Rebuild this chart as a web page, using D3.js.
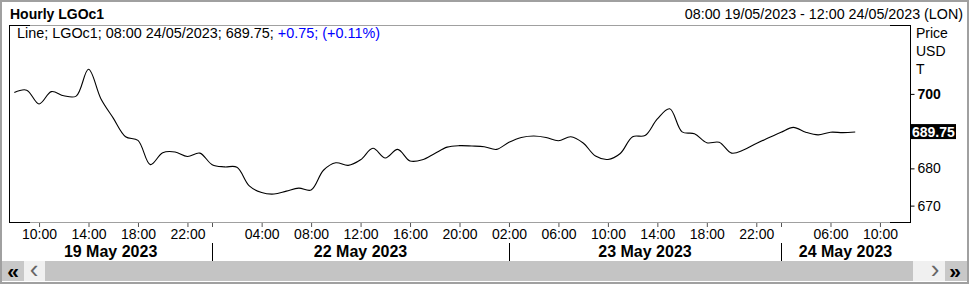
<!DOCTYPE html>
<html>
<head>
<meta charset="utf-8">
<script src="https://cdn.jsdelivr.net/npm/d3@7"></script>
<style>
  body { margin: 0; background: #fff; }
  svg { display: block; font-family: "Liberation Sans", Arial, sans-serif; }
</style>
</head>
<body>
<div class="chart"></div>
<script>
const width = 969;
const height = 285;

// trading sessions: bars are hourly, gaps between sessions are squeezed out
const sessionDays = ["19 May 2023", "22 May 2023", "23 May 2023", "24 May 2023"];
const sessionFrom = [8, 0, 2, 2];
const sessionTo = [23, 23, 23, 12];

// hourly closes from 08:00 19/05 to 08:00 24/05
const prices = [
    700.4, 701.0, 697.3, 700.6, 699.5, 699.4, 706.6, 698.7, 693.5, 688.5,
    687.5, 681.0, 684.2, 684.4, 683.2, 684.1, 681.0, 680.4, 680.3, 675.3,
    673.5, 673.1, 673.9, 674.7, 674.2, 679.5, 681.5, 680.8, 682.3, 685.4,
    682.8, 685.1, 682.0, 682.3, 684.0, 685.7, 686.1, 686.0, 685.8, 685.1,
    687.0, 688.3, 688.7, 688.3, 687.4, 688.5, 686.8, 683.3, 682.4, 684.0,
    688.5, 688.8, 693.3, 696.0, 689.8, 689.3, 686.9, 687.0, 684.1, 685.0,
    686.7, 688.2, 689.7, 691.0, 689.7, 689.0, 689.7, 689.6, 689.75
];

const tickDays = [0, 0, 0, 0, 1, 1, 1, 1, 1, 2, 2, 2, 2, 2, 2, 3, 3];
const tickHours = [10, 14, 18, 22, 4, 8, 12, 16, 20, 2, 6, 10, 14, 18, 22, 6, 10];
const priceTicks = [670, 680, 700];

const lastValue = 689.75;
const change = "+0.75";
const changePct = "(+0.11%)";

// build bar list
let bars = [];
sessionDays.forEach((day, i) => {
    for (let h = sessionFrom[i]; h <= sessionTo[i]; h++) {
        bars.push({ day: i, hour: h });
    }
});
const barIndex = (day, hour) => bars.findIndex((b) => b.day === day && b.hour === hour);
const dayStarts = sessionDays.map((d, i) => barIndex(i, sessionFrom[i]));

const pl = 9, pr = 910, pt = 25, pb = 222;

let svg = d3.select(".chart").append("svg")
    .attr("width", width)
    .attr("height", height);

// outer frame
svg.append("rect")
    .attr("x", 1).attr("y", 1)
    .attr("width", width - 2).attr("height", height - 3)
    .attr("fill", "none").attr("stroke", "#a0a0a0").attr("stroke-width", 2);

let xScale = d3.scaleLinear()
    .domain([-0.43, bars.length - 1 + 0.43])
    .range([pl, pr]);
let yScale = d3.scaleLinear()
    .domain([665.6, 718.5])
    .range([pb, pt]);

// titles
svg.append("text")
    .text("Hourly LGOc1")
    .attr("x", 10).attr("y", 19)
    .attr("font-size", 14).attr("font-weight", "bold");
svg.append("text")
    .text("08:00 19/05/2023 - 12:00 24/05/2023 (LON)")
    .attr("x", 963).attr("y", 19)
    .attr("text-anchor", "end")
    .attr("font-size", 14.3);

// plot frame
svg.append("line").attr("x1", pl).attr("x2", pr).attr("y1", pt + 0.5).attr("y2", pt + 0.5)
    .attr("stroke", "#a0a0a0");
svg.append("line").attr("x1", pl).attr("x2", pr).attr("y1", pb + 0.5).attr("y2", pb + 0.5)
    .attr("stroke", "#a0a0a0");
[[pl, pl + 21], [pr - 20, pr]].forEach((s) => {
    [pt, pb].forEach((yy) => {
        svg.append("line").attr("x1", s[0]).attr("x2", s[1])
            .attr("y1", yy + 0.5).attr("y2", yy + 0.5).attr("stroke", "#000");
    });
});
svg.append("line").attr("x1", pl + 0.5).attr("x2", pl + 0.5).attr("y1", pt).attr("y2", pb + 1)
    .attr("stroke", "#000");
svg.append("line").attr("x1", pr + 0.5).attr("x2", pr + 0.5).attr("y1", pt).attr("y2", pb + 1)
    .attr("stroke", "#000");

// legend
let legend = svg.append("text")
    .attr("x", 17).attr("y", 38)
    .attr("font-size", 14.4);
legend.append("tspan").text("Line; LGOc1; 08:00 24/05/2023; " + lastValue.toFixed(2) + "; ");
legend.append("tspan").text(change + "; " + changePct).attr("fill", "#0000ff");

// line
let line = d3.line()
    .x((d, i) => xScale(i))
    .y((d) => yScale(d))
    .curve(d3.curveCatmullRom.alpha(0.5));
svg.append("path")
    .datum(prices)
    .attr("d", line)
    .attr("fill", "none")
    .attr("stroke", "#000")
    .attr("stroke-width", 1.1);

// right axis
let yAxis = d3.axisRight(yScale)
    .tickValues(priceTicks)
    .tickSize(4)
    .tickPadding(3)
    .tickFormat(d3.format("d"));
let yg = svg.append("g")
    .attr("transform", "translate(" + (pr + 0.5) + ",0)")
    .call(yAxis);
yg.select(".domain").remove();
yg.selectAll("text")
    .attr("font-size", 14)
    .attr("font-family", "Liberation Sans, Arial, sans-serif")
    .attr("fill", "#000")
    .attr("font-weight", (d) => (d === 700 ? "bold" : "normal"));
yg.selectAll("line").attr("stroke", "#000");

["Price", "USD", "T"].forEach((t, i) => {
    svg.append("text").text(t)
        .attr("x", 916).attr("y", 38 + i * 18)
        .attr("font-size", 14);
});

// last value badge
svg.append("rect")
    .attr("x", pr).attr("y", yScale(lastValue) - 8)
    .attr("width", 46).attr("height", 15)
    .attr("fill", "#000");
svg.append("text")
    .text(lastValue.toFixed(2))
    .attr("x", pr + 2).attr("y", yScale(lastValue) + 5)
    .attr("font-size", 14).attr("font-weight", "bold")
    .attr("fill", "#fff");

// bottom axis
let tickIdx = tickDays.map((d, i) => barIndex(d, tickHours[i]));
let xAxis = d3.axisBottom(xScale)
    .tickValues(tickIdx)
    .tickSize(4)
    .tickPadding(2)
    .tickFormat((d) => String(bars[d].hour).padStart(2, "0") + ":00");
let xg = svg.append("g")
    .attr("transform", "translate(0," + (pb + 1) + ")")
    .call(xAxis);
xg.select(".domain").remove();
xg.selectAll("text")
    .attr("font-size", 14)
    .attr("font-family", "Liberation Sans, Arial, sans-serif")
    .attr("fill", "#000");
xg.selectAll("line").attr("stroke", "#555");

// day separators and labels
dayStarts.forEach((s, i) => {
    let sx = Math.round(xScale(s)) + 0.5;
    if (i > 0) {
        svg.append("line").attr("x1", sx).attr("x2", sx)
            .attr("y1", 243).attr("y2", 261).attr("stroke", "#000");
        svg.append("line").attr("x1", sx).attr("x2", sx)
            .attr("y1", pb + 1).attr("y2", pb + 5).attr("stroke", "#555");
    }
    let left = i === 0 ? pl : xScale(s);
    let right = i < dayStarts.length - 1 ? xScale(dayStarts[i + 1]) : pr;
    svg.append("text")
        .text(sessionDays[i])
        .attr("x", (left + right) / 2).attr("y", 257)
        .attr("text-anchor", "middle")
        .attr("font-size", 16).attr("font-weight", "bold");
});

// scrollbar
svg.append("rect").attr("x", 2).attr("y", 261).attr("width", 965).attr("height", 20).attr("fill", "#c4c4c4");
svg.append("rect").attr("x", 2).attr("y", 261).attr("width", 22).attr("height", 20).attr("fill", "#c8c8c8");
svg.append("rect").attr("x", 24).attr("y", 261).attr("width", 21).attr("height", 20).attr("fill", "#f0f0f0");
svg.append("rect").attr("x", 913).attr("y", 261).attr("width", 32).attr("height", 20).attr("fill", "#f0f0f0");
svg.append("rect").attr("x", 945).attr("y", 261).attr("width", 22).attr("height", 20).attr("fill", "#c8c8c8");
[["«", 13, "#000", "bold", 21], ["‹", 34, "#666", "normal", 26], ["›", 935, "#666", "normal", 26], ["»", 955, "#000", "bold", 21]]
    .forEach((b) => {
        svg.append("text").text(b[0])
            .attr("x", b[1]).attr("y", 278)
            .attr("text-anchor", "middle")
            .attr("font-size", b[4])
            .attr("font-weight", b[3])
            .attr("fill", b[2]);
    });
</script>
</body>
</html>
